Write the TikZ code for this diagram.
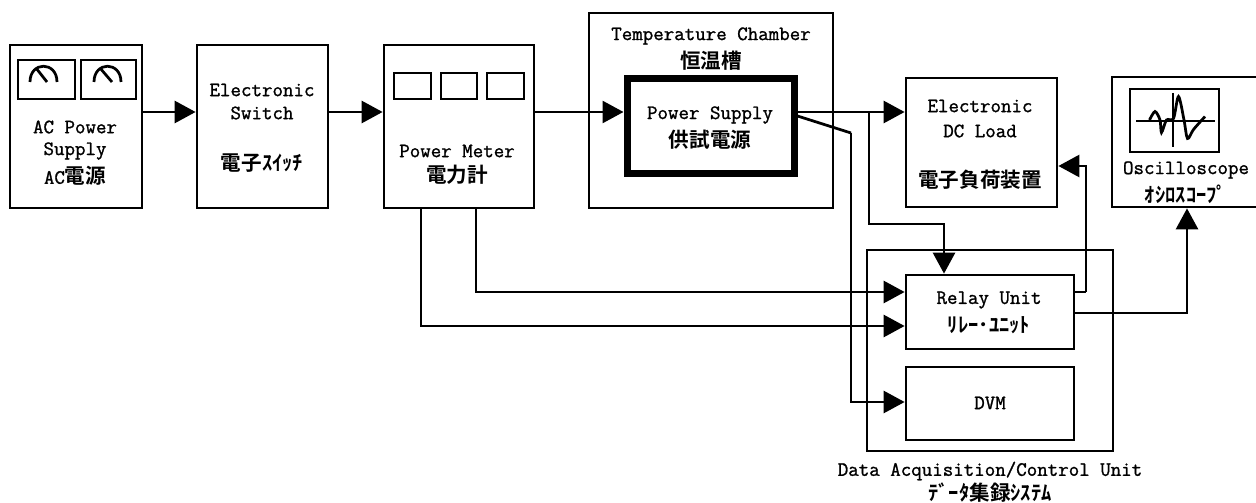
\documentclass[tikz,border=0pt]{standalone}
\usepackage{fontspec}
\newfontfamily\mono{Latin Modern Mono}[FakeBold=1.2]
\newfontfamily\cjk{Noto Sans CJK JP}[BoldFont={* Bold}]
\usetikzlibrary{arrows.meta}
\def\jp#1{{\cjk\bfseries\fontsize{11.7}{14}\selectfont #1}}
\tikzstyle{box} = [draw, line width=0.055cm, inner sep=0pt]
\tikzstyle{txt} = [font=\mono\fontsize{11.6}{14}\selectfont, inner sep=0pt]
\tikzstyle{arrow} = [line width=0.055cm, -{Triangle[length=0.42cm,width=0.44cm]}]
\tikzstyle{wire} = [line width=0.055cm]
\begin{document}
\begin{tikzpicture}[line join=miter]
      \useasboundingbox (0,0) rectangle (25.12,10.04);
      % boxes
      \node (ac) [box, minimum width=2.64cm, minimum height=3.26cm] at (1.52,7.51) {};
      \node (sw) [box, minimum width=2.62cm, minimum height=3.26cm] at (5.25,7.51) {};
      \node (pm) [box, minimum width=3.0cm, minimum height=3.26cm] at (9.18,7.51) {};
      \node (tc) [box, minimum width=4.88cm, minimum height=3.9cm] at (14.22,7.83) {};
      \node (ps) [box, line width=0.14cm, minimum width=3.34cm, minimum height=1.9cm] at (14.21,7.51) {};
      \node (el) [box, minimum width=3.02cm, minimum height=2.58cm] at (19.63,7.19) {};
      \node (os) [box, minimum width=3.0cm, minimum height=2.6cm] at (23.74,7.2) {};
      \node (da) [box, minimum width=4.92cm, minimum height=4.02cm] at (19.8,3.03) {};
      \node (ru) [box, minimum width=3.36cm, minimum height=1.48cm] at (19.8,3.8) {};
      \node (dv) [box, minimum width=3.36cm, minimum height=1.46cm] at (19.8,1.97) {};
      % meters
      \draw[wire] (0.36,8.06) rectangle (1.5,8.84);
      \draw[wire] (1.62,8.06) rectangle (2.72,8.84);
      \draw[wire] (0.6,8.4) .. controls (0.6,8.82) and (1.14,8.82) .. (1.14,8.4);
      \draw[wire] (0.72,8.68)--(0.94,8.4);
      \draw[wire] (1.88,8.4) .. controls (1.88,8.82) and (2.42,8.82) .. (2.42,8.4);
      \draw[wire] (2.0,8.68)--(2.24,8.4);
      \foreach \x/\w in {7.88/0.74,8.82/0.72,9.74/0.74}
        \draw[wire] (\x,8.06) rectangle ++(\w,0.52);
      % scope screen
      \draw[wire] (22.6,7.0) rectangle (24.38,8.26);
      \draw[wire] (22.72,7.62)--(24.3,7.62);
      \draw[wire] (23.46,8.18)--(23.46,7.1);
      \draw[wire] plot[smooth] coordinates {(22.99,7.64) (23.1,7.81) (23.2,7.64) (23.23,7.39) (23.33,7.64) (23.47,7.67) (23.57,8.11) (23.68,7.64) (23.75,7.27) (23.87,7.45) (24.1,7.71)};
      % labels
      \node (t1) [txt] at (1.5,7.5) {AC Power};
      \node (t2) [txt] at (1.5,7.02) {Supply};
      \node (t3) [txt] at (1.5,6.52) {AC\jp{電源}};
      \node (t4) [txt] at (5.24,8.24) {Electronic};
      \node (t5) [txt] at (5.24,7.78) {Switch};
      \node (t6) [txt] at (5.24,6.78) {\jp{電子ｽｲｯﾁ}};
      \node (t7) [txt] at (9.14,7.02) {Power Meter};
      \node (t8) [txt] at (9.14,6.54) {\jp{電力計}};
      \node (t9) [txt] at (14.22,9.32) {Temperature Chamber};
      \node (t10) [txt] at (14.22,8.82) {\jp{恒温槽}};
      \node (t11) [txt] at (14.2,7.74) {Power Supply};
      \node (t12) [txt] at (14.2,7.24) {\jp{供試電源}};
      \node (t13) [txt] at (19.6,7.92) {Electronic};
      \node (t14) [txt] at (19.6,7.42) {DC Load};
      \node (t15) [txt] at (19.6,6.44) {\jp{電子負荷装置}};
      \node (t16) [txt] at (23.72,6.64) {Oscilloscope};
      \node (t17) [txt] at (23.72,6.16) {\jp{ｵｼﾛｽｺｰﾌﾟ}};
      \node (t18) [txt] at (19.78,4.04) {Relay Unit};
      \node (t19) [txt] at (19.78,3.54) {\jp{ﾘﾚｰ･ﾕﾆｯﾄ}};
      \node (t20) [txt] at (19.8,1.98) {DVM};
      \node (t21) [txt] at (19.8,0.62) {Data Acquisition/Control Unit};
      \node (t22) [txt] at (19.8,0.18) {\jp{ﾃﾞｰﾀ集録ｼｽﾃﾑ}};
      % connectors
      \coordinate (bus) at (0,7.8);
      \coordinate (b1) at (17.38,5.56);
      \coordinate (b2) at (18.88,5.56);
      \coordinate (s1) at (17.02,7.38);
      \coordinate (s2) at (17.02,2.0);
      \coordinate (r1) at (21.72,4.2);
      \coordinate (r2) at (21.72,6.72);
      \coordinate (o1) at (23.74,3.78);
      \coordinate (p1) at (8.42,3.52);
      \coordinate (p2) at (9.52,4.2);
      \draw[arrow] (ac.east |- bus)--(sw.west |- bus);
      \draw[arrow] (sw.east |- bus)--(pm.west |- bus);
      \draw[arrow] (pm.east |- bus)--(ps.west |- bus);
      \draw[arrow] (ps.east |- bus)--(el.west |- bus);
      \draw[arrow] (b1 |- bus)--(b1)--(b2)--(b2 |- ru.north);
      \draw[wire] (ps.east |- 0,7.72)--(s1);
      \draw[arrow] (s1)--(s2)--(dv.west |- s2);
      \draw[wire] (ru.east |- r1)--(r1);
      \draw[arrow] (r1)--(r2)--(el.east |- r2);
      \draw[arrow] (ru.east |- o1)--(o1)--(o1 |- os.south);
      \draw[arrow] (p1 |- pm.south)--(p1)--(ru.west |- p1);
      \draw[arrow] (p2 |- pm.south)--(p2)--(ru.west |- p2);
\end{tikzpicture}
\end{document}
